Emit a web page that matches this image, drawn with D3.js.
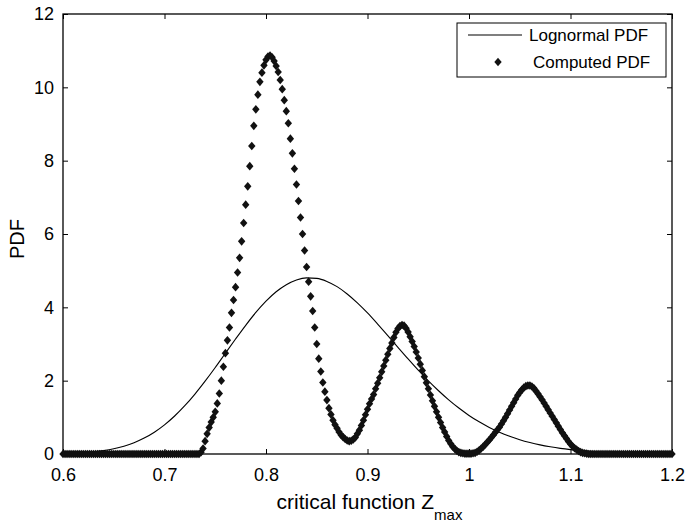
<!DOCTYPE html>
<html>
<head>
<meta charset="utf-8">
<script src="https://cdn.jsdelivr.net/npm/d3@7"></script>
<style>
  html, body { margin: 0; padding: 0; background: #fff; }
  svg { display: block; }
  text { font-family: "Liberation Sans", Arial, sans-serif; fill: #000; }
</style>
</head>
<body>
<svg id="chart" width="685" height="526"></svg>
<script>
// ---------- DATA ----------
const xTicks = [0.6, 0.7, 0.8, 0.9, 1, 1.1, 1.2];
const xTickLabels = ["0.6", "0.7", "0.8", "0.9", "1", "1.1", "1.2"];
const yTicks = [0, 2, 4, 6, 8, 10, 12];
const yTickLabels = ["0", "2", "4", "6", "8", "10", "12"];
const seriesNames = ["Lognormal PDF", "Computed PDF"];

// Lognormal PDF sampled every 0.01 from 0.60 to 1.20
const lognormalStart = 0.6, lognormalStep = 0.01;
const lognormalValues = [
  0.012, 0.021, 0.035, 0.058, 0.092, 0.142, 0.213, 0.308, 0.434, 0.595,   // 0.60-0.69
  0.795, 1.036, 1.317, 1.635, 1.986, 2.359, 2.749, 3.135, 3.510, 3.860,   // 0.70-0.79
  4.168, 4.424, 4.617, 4.746, 4.803, 4.789, 4.707, 4.564, 4.365, 4.122,   // 0.80-0.89
  3.846, 3.543, 3.229, 2.909, 2.592, 2.285, 1.994, 1.725, 1.476, 1.253,   // 0.90-0.99
  1.052, 0.877, 0.725, 0.594, 0.484, 0.390, 0.313, 0.249, 0.197, 0.154,   // 1.00-1.09
  0.120, 0.093, 0.072, 0.055, 0.042, 0.032, 0.024, 0.018, 0.013, 0.010,   // 1.10-1.19
  0.007                                                                   // 1.20
];

// Computed PDF sampled every 0.002 from 0.600 to 1.200
const computedStart = 0.6, computedStep = 0.002;
const computedValues = [
  0, 0, 0, 0, 0, 0, 0, 0, 0, 0,                                  // 0.600-0.618
  0, 0, 0, 0, 0, 0, 0, 0, 0, 0,                                  // 0.620-0.638
  0, 0, 0, 0, 0, 0, 0, 0, 0, 0,                                  // 0.640-0.658
  0, 0, 0, 0, 0, 0, 0, 0, 0, 0,                                  // 0.660-0.678
  0, 0, 0, 0, 0, 0, 0, 0, 0, 0,                                  // 0.680-0.698
  0, 0, 0, 0, 0, 0, 0, 0, 0, 0,                                  // 0.700-0.718
  0, 0, 0, 0, 0, 0, 0, 0, 0.05, 0.15,                            // 0.720-0.738
  0.35, 0.55, 0.72, 0.87, 1.0, 1.15, 1.38, 1.65, 2.0, 2.38,      // 0.740-0.758
  2.75, 3.1, 3.45, 3.85, 4.2, 4.55, 4.95, 5.35, 5.8, 6.3,        // 0.760-0.778
  6.8, 7.3, 7.85, 8.4, 8.95, 9.4, 9.8, 10.15, 10.4, 10.6,        // 0.780-0.798
  10.75, 10.84, 10.87, 10.82, 10.72, 10.58, 10.42, 10.2, 9.95, 9.65, // 0.800-0.818
  9.35, 9.02, 8.6, 8.2, 7.78, 7.35, 6.9, 6.45, 6.0, 5.55,        // 0.820-0.838
  5.1, 4.7, 4.3, 3.9, 3.45, 3.0, 2.6, 2.25, 1.95, 1.7,           // 0.840-0.858
  1.47, 1.25, 1.08, 0.92, 0.8, 0.7, 0.6, 0.52, 0.46, 0.41,       // 0.860-0.878
  0.37, 0.35, 0.36, 0.4, 0.45, 0.55, 0.65, 0.78, 0.92, 1.07,     // 0.880-0.898
  1.22, 1.37, 1.5, 1.62, 1.78, 1.93, 2.08, 2.24, 2.4, 2.56,      // 0.900-0.918
  2.72, 2.88, 3.03, 3.18, 3.32, 3.42, 3.49, 3.52, 3.5, 3.43,     // 0.920-0.938
  3.33, 3.2, 3.07, 2.93, 2.78, 2.62, 2.45, 2.28, 2.11, 1.94,     // 0.940-0.958
  1.78, 1.61, 1.45, 1.3, 1.15, 1.0, 0.86, 0.72, 0.6, 0.48,       // 0.960-0.978
  0.37, 0.28, 0.2, 0.14, 0.09, 0.05, 0.03, 0.02, 0.01, 0.01,     // 0.980-0.998
  0.01, 0.01, 0.02, 0.03, 0.06, 0.1, 0.15, 0.2, 0.26, 0.32,      // 1.000-1.018
  0.38, 0.45, 0.52, 0.59, 0.66, 0.73, 0.82, 0.91, 1.0, 1.1,      // 1.020-1.038
  1.2, 1.3, 1.4, 1.5, 1.6, 1.68, 1.75, 1.81, 1.85, 1.87,         // 1.040-1.058
  1.87, 1.84, 1.79, 1.72, 1.64, 1.56, 1.48, 1.39, 1.3, 1.21,     // 1.060-1.078
  1.12, 1.03, 0.94, 0.85, 0.76, 0.67, 0.58, 0.5, 0.42, 0.34,     // 1.080-1.098
  0.27, 0.21, 0.16, 0.12, 0.08, 0.05, 0.03, 0.02, 0.01, 0,       // 1.100-1.118
  0, 0, 0, 0, 0, 0, 0, 0, 0, 0,                                  // 1.120-1.138
  0, 0, 0, 0, 0, 0, 0, 0, 0, 0,                                  // 1.140-1.158
  0, 0, 0, 0, 0, 0, 0, 0, 0, 0,                                  // 1.160-1.178
  0, 0, 0, 0, 0, 0, 0, 0, 0, 0,                                  // 1.180-1.198
  0                                                              // 1.200
];

// ---------- LAYOUT ----------
const W = 685, H = 526;
const margin = { left: 63, right: 13, top: 14, bottom: 72 };
const iw = W - margin.left - margin.right;
const ih = H - margin.top - margin.bottom;

const svg = d3.select("#chart");
const g = svg.append("g").attr("transform", `translate(${margin.left},${margin.top})`);

const x = d3.scaleLinear().domain([0.6, 1.2]).range([0, iw]);
const y = d3.scaleLinear().domain([0, 12]).range([ih, 0]);

const lognormal = lognormalValues.map((v, i) => ({ x: lognormalStart + i * lognormalStep, y: v }));
const computed = computedValues.map((v, i) => ({ x: computedStart + i * computedStep, y: v }));

// clip
svg.append("defs").append("clipPath").attr("id", "clip")
  .append("rect").attr("x", 0).attr("y", 0).attr("width", iw).attr("height", ih);

// Axes (ticks inward, on all four sides)
const tickLen = 5;
const fmtX = (d, i) => xTickLabels[i];
const fmtY = (d, i) => yTickLabels[i];

const axB = g.append("g").attr("transform", `translate(0,${ih})`)
  .call(d3.axisBottom(x).tickValues(xTicks).tickFormat(fmtX).tickSizeInner(-tickLen).tickSizeOuter(0).tickPadding(14));
const axT = g.append("g")
  .call(d3.axisTop(x).tickValues(xTicks).tickFormat("").tickSizeInner(-tickLen).tickSizeOuter(0));
const axL = g.append("g")
  .call(d3.axisLeft(y).tickValues(yTicks).tickFormat(fmtY).tickSizeInner(-tickLen).tickSizeOuter(0).tickPadding(9));
const axR = g.append("g").attr("transform", `translate(${iw},0)`)
  .call(d3.axisRight(y).tickValues(yTicks).tickFormat("").tickSizeInner(-tickLen).tickSizeOuter(0));

[axB, axT, axL, axR].forEach(a => {
  a.select(".domain").remove();
  a.selectAll(".tick line").attr("stroke", "#000").attr("stroke-width", 1);
  a.selectAll("text").attr("font-size", 18).attr("font-family", "Liberation Sans, Arial, sans-serif").attr("fill", "#000");
});

// Box
g.append("rect").attr("x", 0).attr("y", 0).attr("width", iw).attr("height", ih)
  .attr("fill", "none").attr("stroke", "#000").attr("stroke-width", 1.3);

// Lognormal line
const line = d3.line().x(d => x(d.x)).y(d => y(d.y)).curve(d3.curveMonotoneX);
g.append("path").datum(lognormal)
  .attr("d", line).attr("fill", "none").attr("stroke", "#000").attr("stroke-width", 1.1)
  .attr("clip-path", "url(#clip)");

// Computed diamonds
const diamond = "M0,-4.3L3.7,0L0,4.3L-3.7,0Z";
g.append("g").selectAll("path").data(computed).join("path")
  .attr("d", diamond)
  .attr("transform", d => `translate(${x(d.x)},${y(d.y)})`)
  .attr("fill", "#111");

// Axis labels
const xl = svg.append("text")
  .attr("x", margin.left + iw / 2 + 2).attr("y", 509)
  .attr("text-anchor", "middle").attr("font-size", 21);
xl.append("tspan").text("critical function Z");
xl.append("tspan").attr("dy", 11).attr("font-size", 15).text("max");

svg.append("text")
  .attr("transform", `translate(24,239) rotate(-90)`)
  .attr("text-anchor", "middle").attr("font-size", 20).text("PDF");

// Legend
const lg = svg.append("g").attr("transform", "translate(457,23)");
lg.append("rect").attr("x", 0).attr("y", 0).attr("width", 209).attr("height", 54)
  .attr("fill", "#fff").attr("stroke", "#000").attr("stroke-width", 1);
lg.append("line").attr("x1", 11).attr("x2", 65).attr("y1", 12).attr("y2", 12)
  .attr("stroke", "#000").attr("stroke-width", 1.2);
lg.append("text").attr("x", 72).attr("y", 12).attr("dy", "0.35em").attr("font-size", 17).text(seriesNames[0]);
lg.append("path").attr("d", diamond).attr("transform", "translate(41,39)").attr("fill", "#111");
lg.append("text").attr("x", 76).attr("y", 39).attr("dy", "0.35em").attr("font-size", 17).text(seriesNames[1]);
</script>
</body>
</html>
